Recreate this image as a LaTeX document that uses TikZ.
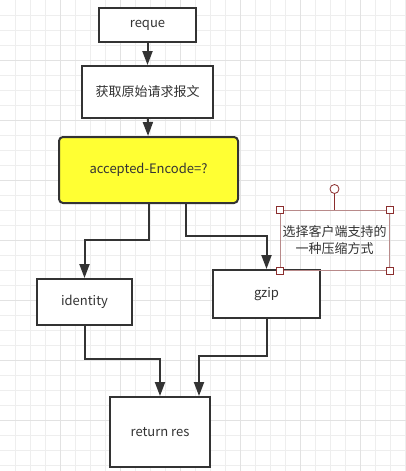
\documentclass[tikz,border=0pt]{standalone}
\usepackage{fontspec}
\setmainfont{Noto Sans CJK SC}
\usepackage{xcolor}
\usepackage{tikz}
\usetikzlibrary{
    calc,
    arrows.meta
}
\definecolor{ink}{HTML}{333333}
\definecolor{gridminor}{HTML}{EEEEEE}
\definecolor{gridmajor}{HTML}{E2E2E2}
\definecolor{notered}{HTML}{B88A8A}
\definecolor{handlered}{HTML}{8B2E2E}
\definecolor{decision}{HTML}{FFFF33}
\tikzset{
    % boxes of the flow chart
    box/.style={
        draw=ink, line width=2pt, fill=white, text=ink,
        inner sep=0pt, align=center,
        font=\fontsize{13}{17}\selectfont
    },
    % connector with a filled head
    flow/.style={
        draw=ink, line width=2pt,
        -{Triangle[length=14pt, width=10pt]}
    },
    % small square handles round the note
    handle/.style={
        draw=handlered, fill=white, line width=0.8pt,
        minimum size=7pt, inner sep=0pt
    }
}

\begin{document}
\begin{tikzpicture}[x=1pt, y=-1pt]
    \useasboundingbox (0,0) rectangle (406,471);
    % background grid
    \fill[white] (0,0) rectangle (406,471);
    \foreach \g in {15,30,...,405} {
        \draw[gridminor, line width=0.8pt] (\g,0) -- (\g,471);
    }
    \foreach \g in {15,30,...,465} {
        \draw[gridminor, line width=0.8pt] (0,\g) -- (406,\g);
    }
    \foreach \g in {60,120,...,360} {
        \draw[gridmajor, line width=0.8pt] (\g,0) -- (\g,471);
    }
    \foreach \g in {60,120,...,420} {
        \draw[gridmajor, line width=0.8pt] (0,\g) -- (406,\g);
    }

    \node[box, minimum width=97pt, minimum height=34pt] (reque) at (147.5,25) {reque};
    \node[box, minimum width=131pt, minimum height=52pt] (raw) at (147.5,92) {获取原始请求报文};
    \node[box, fill=decision, rounded corners=4pt,
          minimum width=179pt, minimum height=66pt] (accept) at (148.5,170) {accepted-Encode=?};
    \node[box, minimum width=95pt, minimum height=46pt] (identity) at (84.5,302) {identity};
    \node[box, minimum width=107pt, minimum height=48pt] (gzip) at (266.5,294) {gzip};
    \node[box, minimum width=100pt, minimum height=70pt] (ret) at (160,432) {return res};

    \draw[flow] (reque) -- (raw);
    \draw[flow] (raw) -- (accept);
    \draw[flow] (accept.south) |- ($(identity.north)+(0,-38)$) -- (identity.north);
    \draw[flow] ([xshift=37.5]accept.south) |- ($(gzip.north)+(0,-33)$) -- (gzip.north);
    \coordinate (retL) at ([xshift=0]ret.north);
    \coordinate (retR) at ([xshift=39]ret.north);
    \draw[flow] (identity.south) |- ($(retL)+(0,-37)$) -- (retL);
    \draw[flow] (gzip.south) |- ($(retR)+(0,-40)$) -- (retR);

    % note with its handles
    \node[draw=notered, line width=0.8pt, text=ink, inner sep=0pt, align=center,
          minimum width=109pt, minimum height=60pt,
          font=\fontsize{13}{17}\selectfont] (note) at (334.5,240) {选择客户端支持的\\一种压缩方式};
    \node[circle, draw=handlered, fill=white, line width=0.8pt,
          minimum size=9pt, inner sep=0pt] (turn) at (334.5,189) {};
    \draw[handlered, line width=0.8pt] (turn) -- (note.north);
    \foreach \c in {north west, north east, south west, south east} {
        \node[handle] at (note.\c) {};
    }
\end{tikzpicture}
\end{document}
